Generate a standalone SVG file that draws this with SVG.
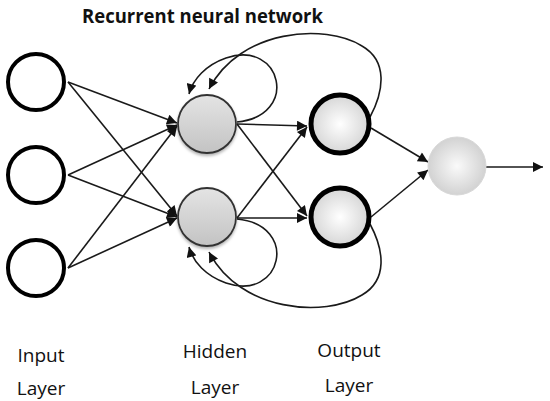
<svg xmlns="http://www.w3.org/2000/svg" width="550" height="401" viewBox="0 0 550 401">
<defs>
<marker id="ah" viewBox="0 0 10 10" refX="10" refY="5" markerWidth="12" markerHeight="10" markerUnits="userSpaceOnUse" orient="auto"><path d="M0,0 L10,5 L0,10 z" fill="#111"/></marker>
<linearGradient id="gHid" x1="0" y1="0" x2="0" y2="1"><stop offset="0" stop-color="#e4e4e4"/><stop offset="1" stop-color="#c3c3c3"/></linearGradient>
<radialGradient id="gOut" cx="0.5" cy="0.5" r="0.5"><stop offset="0" stop-color="#ffffff"/><stop offset="1" stop-color="#d6d6d6"/></radialGradient>
<radialGradient id="gFin" cx="0.5" cy="0.5" r="0.5"><stop offset="0" stop-color="#fafafa"/><stop offset="1" stop-color="#d2d2d2"/></radialGradient>
<filter id="sh" x="-30%" y="-30%" width="160%" height="160%"><feDropShadow dx="0" dy="2" stdDeviation="1.5" flood-color="#000" flood-opacity="0.3"/></filter>
</defs>
<style>
.inp{fill:#fff;stroke:#000;stroke-width:4}
.hid{fill:url(#gHid);stroke:#333;stroke-width:1.8}
.out{fill:url(#gOut);stroke:#000;stroke-width:5}
.fin{fill:url(#gFin);stroke:#d8d8d8;stroke-width:1}
.e{fill:none;stroke:#1a1a1a;stroke-width:1.6;marker-end:url(#ah)}
.lbl{font-family:"Open Sans","Noto Sans",sans-serif;font-size:19px;fill:#111;text-anchor:middle}
.ttl{font-family:"Open Sans","Noto Sans",sans-serif;font-size:19px;font-weight:700;fill:#111}
</style>
<text class="ttl" x="82" y="23" textLength="241" lengthAdjust="spacingAndGlyphs">Recurrent neural network</text>
<g id="connectors">
<line class="e" x1="68" y1="82" x2="177" y2="123"/>
<line class="e" x1="68" y1="82" x2="177" y2="216"/>
<line class="e" x1="68" y1="175" x2="177" y2="125"/>
<line class="e" x1="68" y1="175" x2="177" y2="217"/>
<line class="e" x1="68" y1="268" x2="177" y2="126"/>
<line class="e" x1="68" y1="268" x2="177" y2="218"/>
<line class="e" x1="237" y1="124" x2="307" y2="126"/>
<line class="e" x1="237" y1="124" x2="307" y2="216"/>
<line class="e" x1="237" y1="218" x2="307" y2="127"/>
<line class="e" x1="237" y1="218" x2="307" y2="218"/>
<line class="e" x1="371" y1="128" x2="428" y2="162"/>
<line class="e" x1="371" y1="217" x2="428" y2="170"/>
<line class="e" x1="486" y1="167" x2="543" y2="167"/>
<path class="e" d="M237,219 C300,225 282,302 226,283 C206,276 193,262 189,247"/>
<path class="e" d="M237,122 C300,116 282,39 226,58 C206,65 193,79 189,94"/>
<path class="e" d="M370,224 C384,250 388,280 362,295 C325,318 240,312 209,252"/>
<path class="e" d="M370,117 C384,91 388,61 362,46 C325,23 240,29 209,89"/>
</g>
<g id="input1"><circle class="inp" cx="36" cy="82" r="28"/></g>
<g id="input2"><circle class="inp" cx="36" cy="175" r="28"/></g>
<g id="input3"><circle class="inp" cx="36" cy="268" r="28"/></g>
<g id="hidden1"><circle class="hid" cx="207" cy="124" r="29" filter="url(#sh)"/></g>
<g id="hidden2"><circle class="hid" cx="207" cy="217" r="29" filter="url(#sh)"/></g>
<g id="output1"><circle class="out" cx="340" cy="124" r="29"/></g>
<g id="output2"><circle class="out" cx="340" cy="217" r="29"/></g>
<g id="final"><circle class="fin" cx="457" cy="166" r="29"/></g>
<g id="labels">
<text class="lbl" x="41" y="362">Input</text>
<text class="lbl" x="41" y="395">Layer</text>
<text class="lbl" x="215" y="358">Hidden</text>
<text class="lbl" x="215" y="394">Layer</text>
<text class="lbl" x="349" y="357">Output</text>
<text class="lbl" x="349" y="392">Layer</text>
</g>
</svg>
